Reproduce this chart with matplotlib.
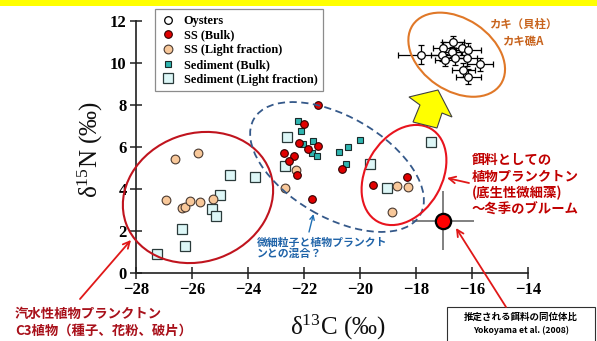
import matplotlib
matplotlib.use("Agg")
import matplotlib.pyplot as plt
from matplotlib.patches import Ellipse, Polygon, Rectangle
from matplotlib.lines import Line2D

plt.rcParams['mathtext.fontset'] = 'custom'
plt.rcParams['mathtext.rm'] = 'Liberation Serif'
plt.rcParams['mathtext.it'] = 'Liberation Serif:italic'
plt.rcParams['mathtext.bf'] = 'Liberation Serif:bold'

# Oysters (mean +- sd)
oys_x = [-17.84, -17.04, -16.68, -16.38, -17.07, -16.74, -16.14, -16.62, -16.20, -15.73, -16.32, -16.14, -16.98]
oys_y = [10.37, 10.69, 10.97, 10.69, 10.37, 10.52, 10.60, 10.21, 10.21, 9.92, 9.65, 9.33, 10.13]
oys_xe = [0.80, 0.35, 0.40, 0.30, 0.40, 0.35, 0.45, 0.40, 0.35, 0.47, 0.40, 0.45, 0.35]
oys_ye = [0.45, 0.30, 0.30, 0.30, 0.30, 0.25, 0.35, 0.30, 0.35, 0.30, 0.35, 0.35, 0.30]

# SS (Bulk)
ss_bulk_x = [-21.50, -22.00, -22.19, -21.86, -21.52, -22.71, -22.38, -22.54, -22.26, -21.71, -20.65, -19.54, -18.34]
ss_bulk_y = [7.99, 7.07, 6.19, 5.88, 6.02, 5.69, 5.54, 5.34, 4.65, 3.52, 4.94, 4.19, 4.54]

# SS (Light fraction)
ss_light_x = [-26.62, -25.81, -26.93, -26.38, -26.26, -26.08, -25.72, -25.26, -22.68, -22.30, -18.70, -18.29, -18.88]
ss_light_y = [5.40, 5.69, 3.46, 3.10, 3.14, 3.41, 3.35, 3.52, 4.05, 4.89, 4.13, 4.10, 2.90]

# Sediment (Bulk)
sed_bulk_x = [-22.24, -22.11, -22.04, -21.68, -21.74, -21.56, -20.76, -20.45, -20.52, -20.00]
sed_bulk_y = [7.24, 6.75, 6.13, 6.27, 5.69, 5.56, 5.73, 6.00, 5.18, 6.30]

# Sediment (Light fraction)
sed_light_x = [-27.25, -26.25, -26.36, -25.30, -25.14, -25.01, -24.65, -23.77, -22.63, -22.68, -19.65, -19.04, -17.49]
sed_light_y = [0.89, 1.29, 2.07, 3.03, 2.72, 3.68, 4.64, 4.56, 6.45, 5.07, 5.18, 4.02, 6.21]

# estimated food source (Yokoyama et al. 2008)
food_x, food_y = -17.04, 2.48
food_xe, food_ye = 1.1, 1.4

x_ticks = [-28, -26, -24, -22, -20, -18, -16, -14]
y_ticks = [0, 2, 4, 6, 8, 10, 12]

W, H = 597, 341
fig = plt.figure(figsize=(W / 100, H / 100), dpi=100)
fig.patch.set_facecolor('white')

ax = fig.add_axes([136.3 / W, 1 - 272.7 / H, 392 / W, 252 / H])
ax.set_xlim(-28, -14)
ax.set_ylim(0, 12)
for s in ['top', 'right']:
    ax.spines[s].set_visible(False)
for s in ['left', 'bottom']:
    ax.spines[s].set_linewidth(1.2)
    ax.spines[s].set_color('#202020')
ax.set_xticks(x_ticks)
ax.set_yticks(y_ticks)
ax.tick_params(direction='inout', length=8, width=1.1, color='#202020', pad=3)
for lab in ax.get_xticklabels() + ax.get_yticklabels():
    lab.set_family('Liberation Serif')
    lab.set_fontweight('bold')
    lab.set_fontsize(12)

ax.errorbar([food_x], [food_y], xerr=[food_xe], yerr=[food_ye], fmt='none',
            ecolor='#808080', elinewidth=1.4, capsize=0, zorder=2, clip_on=False)
ax.plot([food_x], [food_y], 'o', ms=11, mfc='#FF0000', mec='black', mew=1.6, zorder=6, clip_on=False)

ax.errorbar(oys_x, oys_y, xerr=oys_xe, yerr=oys_ye, fmt='o', ms=5.5, mfc='white', mec='black',
            mew=0.9, ecolor='black', elinewidth=0.9, capsize=2, capthick=0.9, zorder=5, clip_on=False)
ax.plot(sed_light_x, sed_light_y, 's', ms=6.5, mfc='#DDF7F7', mec='#2A3A3A', mew=0.9, ls='none', zorder=4, clip_on=False)
ax.plot(ss_light_x, ss_light_y, 'o', ms=6.3, mfc='#F8C89A', mec='#4A3A30', mew=0.8, ls='none', zorder=4, clip_on=False)
ax.plot(sed_bulk_x, sed_bulk_y, 's', ms=4.0, mfc='#2FB5B0', mec='#1A2A2A', mew=0.8, ls='none', zorder=4, clip_on=False)
ax.plot(ss_bulk_x, ss_bulk_y, 'o', ms=5.5, mfc='#E00000', mec='#300000', mew=0.8, ls='none', zorder=4, clip_on=False)

# legend
handles = [
    Line2D([], [], marker='o', ls='none', ms=5.5, mfc='white', mec='black', mew=0.9),
    Line2D([], [], marker='o', ls='none', ms=5.5, mfc='#E00000', mec='#300000', mew=0.8),
    Line2D([], [], marker='o', ls='none', ms=6.3, mfc='#F8C89A', mec='#4A3A30', mew=0.8),
    Line2D([], [], marker='s', ls='none', ms=4.0, mfc='#2FB5B0', mec='#1A2A2A', mew=0.8),
    Line2D([], [], marker='s', ls='none', ms=6.5, mfc='#DDF7F7', mec='#2A3A3A', mew=0.9),
]
labels = ['Oysters', 'SS (Bulk)', 'SS (Light fraction)', 'Sediment (Bulk)', 'Sediment (Light fraction)']
leg = ax.legend(handles, labels, loc='upper left', bbox_to_anchor=(155 / W, 1 - 9.3 / H),
                bbox_transform=fig.transFigure, frameon=True, fancybox=False,
                prop={'family': 'Liberation Serif', 'weight': 'bold', 'size': 8.8},
                labelspacing=0.22, handlelength=1.2, handletextpad=0.7, borderpad=0.45,
                borderaxespad=0)
leg.get_frame().set_edgecolor('#707070')
leg.get_frame().set_linewidth(0.9)

# overlay in pixel coordinates for the annotations
ov = fig.add_axes([0, 0, 1, 1], zorder=10)
ov.set_xlim(0, W)
ov.set_ylim(0, H)
ov.axis('off')
ov.patch.set_alpha(0)


def p(x, y):
    return (x, H - y)


ov.add_patch(Rectangle(p(0, 6), W, 6, color='#FFFF00', lw=0))

ov.add_patch(Ellipse(p(198, 197.5), 153, 128, angle=20, fill=False, ec='#C0141E', lw=1.5))
ov.add_patch(Ellipse(p(337, 167), 192, 101, angle=-30, fill=False, ec='#35598A', lw=1.3, ls=(0, (4, 2.5))))
ov.add_patch(Ellipse(p(404, 175), 107, 76, angle=60, fill=False, ec='#E8141E', lw=1.5))
ov.add_patch(Ellipse(p(456.7, 54.7), 106, 72, angle=-34, fill=False, ec='#E07828', lw=1.5))

arrow_pts = [(438, 90), (452, 117), (442, 113), (437, 128), (413, 122), (420, 105), (409, 97)]
ov.add_patch(Polygon([p(x, y) for x, y in arrow_pts], closed=True, fc='#FFFF00', ec='#404040', lw=0.8))

red_arrow = dict(arrowstyle='->', color='#E01818', lw=1.3, mutation_scale=12, shrinkA=0, shrinkB=0)
ov.annotate('', xy=p(131, 240), xytext=p(80, 299), arrowprops=red_arrow)
ov.annotate('', xy=p(447, 178), xytext=p(469, 183), arrowprops=red_arrow)
ov.annotate('', xy=p(456, 228), xytext=p(506, 307), arrowprops=red_arrow)
ov.annotate('', xy=p(313.5, 214), xytext=p(309, 232),
            arrowprops=dict(arrowstyle='->', color='#1F6FB5', lw=1.0, mutation_scale=8, shrinkA=0, shrinkB=0))

jp = ['Noto Sans CJK JP', 'DejaVu Sans']
ov.text(*p(472, 185), '餌料としての\n植物プランクトン\n(底生性微細藻)\n～冬季のブルーム',
        family=jp, fontweight='bold', fontsize=9.6, color='#C00000', va='center', ha='left', linespacing=1.2)
ov.text(*p(15, 322), '汽水性植物プランクトン\nC3植物（種子、花粉、破片）',
        family=jp, fontweight='bold', fontsize=9.6, color='#A8101A', va='center', ha='left', linespacing=1.25)
ov.text(*p(257, 248.5), '微細粒子と植物プランクト\nンとの混合？',
        family=jp, fontweight='bold', fontsize=7.8, color='#1F63A8', va='center', ha='left', linespacing=1.05)
ov.text(*p(523, 33), 'カキ（貝柱）\nカキ礁A',
        family=jp, fontweight='bold', fontsize=8.2, color='#C8641E', va='center', ha='center', linespacing=1.45)

ov.add_patch(Rectangle(p(446.7, 345), 148, 345 - 306.7, fill=False, ec='#303030', lw=0.8))
ov.text(*p(521, 317), '推定される餌料の同位体比', family=jp, fontweight='bold', fontsize=6.8,
        color='black', ha='center', va='center')
ov.text(*p(521, 330), 'Yokoyama et al. (2008)', family=jp, fontweight='bold', fontsize=6.2,
        color='black', ha='center', va='center')

ov.text(*p(338, 327), r'δ$^{13}$C (‰)', family='Liberation Serif', fontsize=18,
        ha='center', va='center', color='#101010')
ov.text(*p(90, 150), r'δ$^{15}$N (‰)', family='Liberation Serif', fontsize=18,
        ha='center', va='center', rotation=90, color='#101010')

fig.savefig('out.png', dpi=100)
